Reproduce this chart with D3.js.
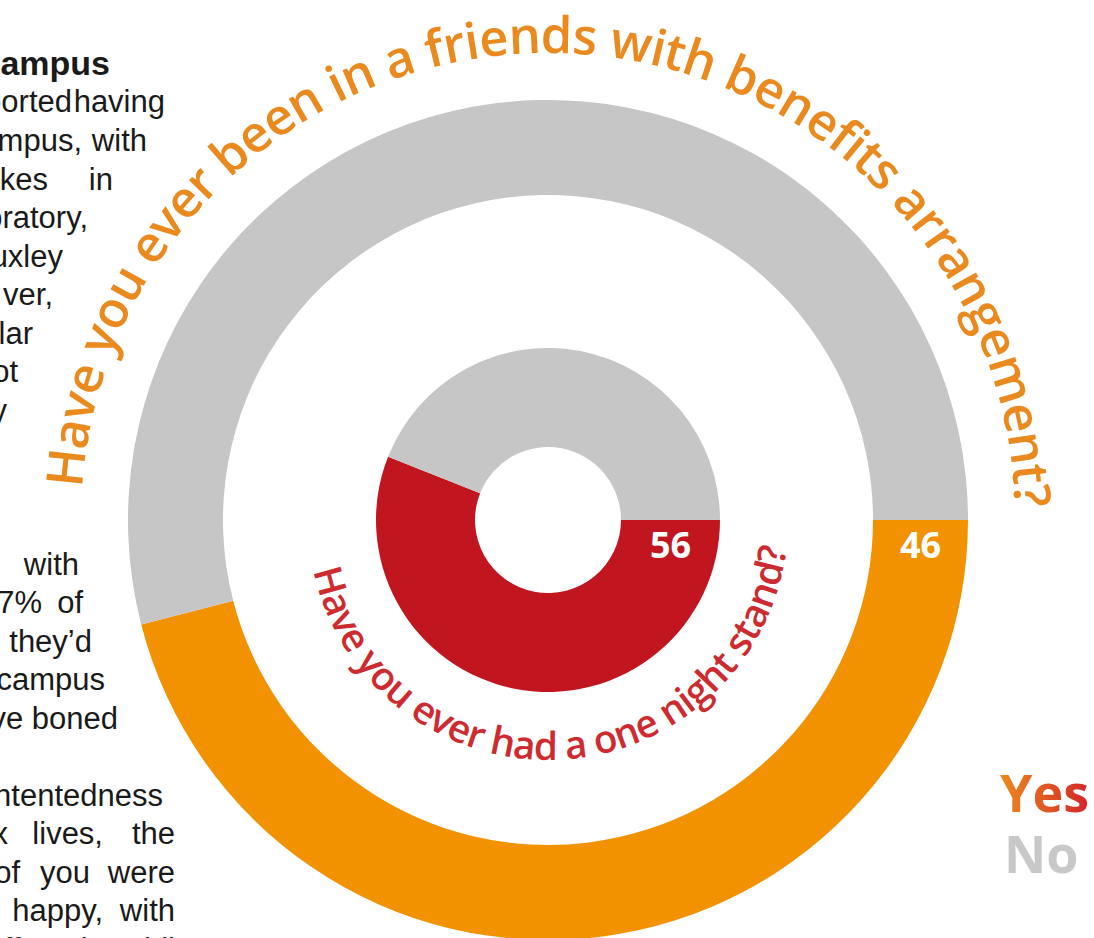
<!DOCTYPE html>
<meta charset="utf-8">
<script src="https://d3js.org/d3.v7.min.js"></script>
<style>
  body { margin: 0; background: #fff; }
  svg { display: block; }
</style>
<div id="my_dataviz"></div>
<script>

// survey answers, percent
var answers = ["Yes", "No"];
var fwbValues = [46, 54];        // friends with benefits (outer ring)
var oneNightValues = [56, 44];   // one night stand (inner ring)
var fwbQuestion = "Have you ever been in a friends with benefits arrangement?";
var oneNightQuestion = "Have you ever had a one night stand?";

// article text running down the left (cropped by the page edge)
var articleLines = [
  {t: "ampus", x: 110, y: 75, bold: true},
  {t: "ported", x: 72, y: 112}, {t: "having", x: 165, y: 112},
  {t: "mpus,", x: 82, y: 151}, {t: "with", x: 147, y: 151},
  {t: "kes", x: 48, y: 190}, {t: "in", x: 113, y: 190},
  {t: "oratory,", x: 88, y: 228},
  {t: "uxley", x: 63, y: 267},
  {t: "ver,", x: 53, y: 305},
  {t: "lar", x: 33, y: 344},
  {t: "ot", x: 18, y: 382},
  {t: "y", x: 7, y: 421},
  {t: "with", x: 79, y: 575},
  {t: "7%", x: 42, y: 613}, {t: "of", x: 83, y: 613},
  {t: "they\u2019d", x: 92, y: 652},
  {t: "campus", x: 105, y: 690},
  {t: "ve boned", x: 118, y: 729},
  {t: "ntentedness", x: 163, y: 806},
  {t: "x", x: 8, y: 844}, {t: "lives,", x: 103, y: 844}, {t: "the", x: 175, y: 844},
  {t: "of", x: 20, y: 883}, {t: "you", x: 90, y: 883}, {t: "were", x: 175, y: 883},
  {t: "happy,", x: 103, y: 921}, {t: "with", x: 175, y: 921},
  {t: "f", x: 12, y: 960}, {t: "female", x: 105, y: 960}, {t: "Chil", x: 175, y: 960}
];

var width = 1094, height = 938;
var cx = 548, cy = 520;

var svg = d3.select("#my_dataviz")
  .append("svg")
    .attr("width", width)
    .attr("height", height);

var defs = svg.append("defs");
var grad = defs.append("linearGradient").attr("id", "yesGrad")
  .attr("x1", "0%").attr("x2", "100%").attr("y1", "0%").attr("y2", "0%");
grad.append("stop").attr("offset", "0%").attr("stop-color", "#ec8a1c");
grad.append("stop").attr("offset", "100%").attr("stop-color", "#d4262a");

// article text
svg.append("g").selectAll("text")
  .data(articleLines)
  .enter()
  .append("text")
    .attr("x", function(d) { return d.x; })
    .attr("y", function(d) { return d.y; })
    .attr("text-anchor", "end")
    .style("font-family", "'Liberation Sans', Arial, sans-serif")
    .style("font-size", function(d) { return d.bold ? "34px" : "31px"; })
    .style("font-weight", function(d) { return d.bold ? "bold" : "normal"; })
    .style("fill", "#1a1a1a")
    .text(function(d) { return d.t; });

var chart = svg.append("g")
  .attr("transform", "translate(" + cx + "," + cy + ")");

// yes starts at 3 o'clock and runs clockwise
var pie = d3.pie()
  .sort(null)
  .startAngle(Math.PI / 2)
  .endAngle(Math.PI / 2 + 2 * Math.PI);

var rings = [
  {values: fwbValues, r0: 325, r1: 420, colors: ["#f39200", "#c6c6c6"]},
  {values: oneNightValues, r0: 73, r1: 172, colors: ["#c1161f", "#c6c6c6"]}
];

rings.forEach(function(ring) {
  var arc = d3.arc().innerRadius(ring.r0).outerRadius(ring.r1);
  chart.append("g").selectAll("path")
    .data(pie(ring.values))
    .enter()
    .append("path")
      .attr("d", arc)
      .attr("fill", function(d, i) { return ring.colors[i]; });

  // value label for "Yes", just below where the slice starts
  chart.append("text")
    .attr("x", (ring.r0 + ring.r1) / 2)
    .attr("y", 38)
    .attr("text-anchor", "middle")
    .style("font-family", "'Open Sans', sans-serif")
    .style("font-weight", 700)
    .style("font-size", "36px")
    .style("fill", "#fff")
    .text(ring.values[0]);
});

// curved question text, fitted to an arc length
function curvedText(id, r, clockwise, startDeg, spanDeg, label, color, size) {
  var d = clockwise
    ? "M" + (-r) + ",0 A" + r + "," + r + " 0 0,1 " + r + ",0"
    : "M" + (-r) + ",0 A" + r + "," + r + " 0 0,0 " + r + ",0";
  defs.append("path").attr("id", id).attr("d", d)
    .attr("transform", "translate(" + cx + "," + cy + ")");

  var target = spanDeg * Math.PI / 180 * r;
  var txt = svg.append("text")
    .style("font-family", "'Open Sans', sans-serif")
    .style("font-weight", 600)
    .style("font-size", size + "px")
    .style("fill", color);
  txt.append("textPath")
    .attr("href", "#" + id)
    .attr("startOffset", startDeg * Math.PI / 180 * r)
    .text(label);

  var len = txt.node().getComputedTextLength();
  var ratio = target / len;
  var fs = size * Math.sqrt(Math.min(ratio, 1.05));
  txt.style("font-size", fs + "px");
  len = txt.node().getComputedTextLength();
  txt.style("letter-spacing", ((target - len) / (label.length - 1)) + "px");
}

curvedText("outerPath", 467, true, 3.9, 174.6, fwbQuestion, "#ea8a1e", 52);
curvedText("innerPath", 240, false, 12.2, 161.1, oneNightQuestion, "#cd2b30", 40);

// legend
var legend = svg.append("g")
  .style("font-family", "'Open Sans', sans-serif")
  .style("font-weight", 700)
  .style("font-size", "52px");
legend.append("text").attr("x", 1000).attr("y", 812)
  .style("fill", "url(#yesGrad)").text(answers[0]);
legend.append("text").attr("x", 1004).attr("y", 873)
  .style("fill", "#c8c8c8").text(answers[1]);

</script>
